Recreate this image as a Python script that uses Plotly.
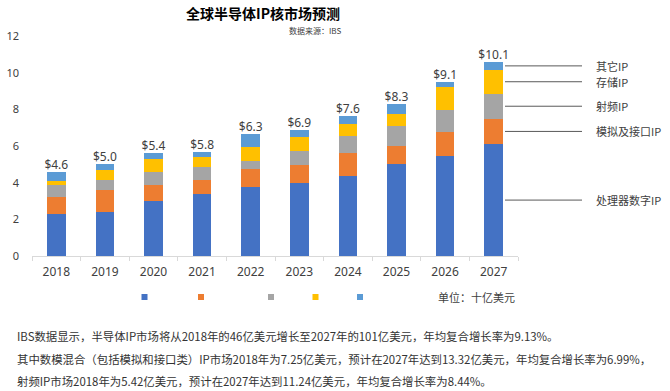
import plotly.graph_objects as go

# ---------------- data ----------------
years = ["2018", "2019", "2020", "2021", "2022", "2023", "2024", "2025", "2026", "2027"]
series_names = ["处理器数字IP", "模拟及接口IP", "射频IP", "存储IP", "其它IP"]
digital = [2.30, 2.39, 3.00, 3.40, 3.77, 3.99, 4.39, 5.01, 5.48, 6.10]
analog = [0.90, 1.21, 0.88, 0.77, 0.95, 1.00, 1.22, 0.99, 1.31, 1.39]
rf = [0.68, 0.55, 0.69, 0.69, 0.47, 0.76, 0.91, 1.07, 1.19, 1.36]
memory = [0.22, 0.55, 0.71, 0.54, 0.78, 0.73, 0.68, 0.69, 1.22, 1.31]
other = [0.50, 0.30, 0.32, 0.28, 0.70, 0.41, 0.41, 0.54, 0.27, 0.42]
total_labels = ["$4.6", "$5.0", "$5.4", "$5.8", "$6.3", "$6.9", "$7.6", "$8.3", "$9.1", "$10.1"]
y_ticks = [0, 2, 4, 6, 8, 10, 12]
notes = [
    "IBS数据显示，半导体IP市场将从2018年的46亿美元增长至2027年的101亿美元，年均复合增长率为9.13%。",
    "其中数模混合（包括模拟和接口类）IP市场2018年为7.25亿美元，预计在2027年达到13.32亿美元，年均复合增长率为6.99%，",
    "射频IP市场2018年为5.42亿美元，预计在2027年达到11.24亿美元，年均复合增长率为8.44%。",
]

colors = ["#4472C4", "#ED7D31", "#A5A5A5", "#FFC000", "#5B9BD5"]
series = [digital, analog, rf, memory, other]

W, H = 670, 391
ML, MR, MT, MB = 32, 152, 36, 135
PW = W - ML - MR
PH = H - MT - MB


def px_x(p):
    return (p - ML) / PW


def px_y(p):
    return (H - MB - p) / PH


CJK = "Noto Sans CJK SC"
NUM = "Noto Sans"

fig = go.Figure()
for name, vals, c in zip(series_names, series, colors):
    fig.add_trace(go.Bar(x=years, y=vals, name=name, marker=dict(color=c, line=dict(width=0)),
                         width=0.385, showlegend=False))

# total labels above the stacks
totals = [sum(v) for v in zip(*series)]
fig.add_trace(go.Scatter(x=years, y=totals, mode="text", text=total_labels, textposition="top center",
                         textfont=dict(size=12, family=NUM, color="#404040"), cliponaxis=False,
                         showlegend=False, hoverinfo="skip"))

# legend squares (no text), one legend each
legend_px = [144.5, 201, 271, 315.5, 360]
for i, (c, lx) in enumerate(zip(colors, legend_px)):
    key = "legend" if i == 0 else f"legend{i+1}"
    fig.add_trace(go.Scatter(x=[None], y=[None], mode="markers", name="",
                             marker=dict(symbol="square", size=6, color=c),
                             legend=key, showlegend=True, hoverinfo="skip"))
    fig.update_layout(**{key: dict(x=px_x(lx - 20), y=px_y(297), xanchor="left", yanchor="middle",
                                   bgcolor="rgba(0,0,0,0)", borderwidth=0, itemsizing="trace",
                                   font=dict(size=11, family=CJK))})

annotations = []
# right side labels with leader lines
shapes = []
base = 0
last = [s[-1] for s in series]
for name, v in zip(series_names, last):
    mid = base + v / 2
    base += v
    shapes.append(dict(type="line", xref="paper", yref="y", x0=px_x(505), x1=px_x(582), y0=mid, y1=mid,
                       line=dict(color="#595959", width=1)))
    annotations.append(dict(x=px_x(594), y=mid, xref="paper", yref="y", text=name, showarrow=False,
                            xanchor="left", yanchor="middle", font=dict(size=11, family=CJK, color="#404040")))

annotations.append(dict(x=px_x(314.5), y=px_y(30.5), xref="paper", yref="paper", text="数据来源：IBS",
                        showarrow=False, xanchor="center", yanchor="middle",
                        font=dict(size=8, family=CJK, color="#404040")))
annotations.append(dict(x=px_x(436), y=px_y(297), xref="paper", yref="paper", text="单位：十亿美元",
                        showarrow=False, xanchor="left", yanchor="middle",
                        font=dict(size=11, family=CJK, color="#404040")))
for i, line in enumerate(notes):
    annotations.append(dict(x=px_x(15), y=px_y(336 + 22.5 * i), xref="paper", yref="paper", text=line,
                            showarrow=False, xanchor="left", yanchor="middle",
                            font=dict(size=11.4, family=CJK, color="#333333")))

fig.update_layout(
    width=W, height=H,
    margin=dict(l=ML, r=MR, t=MT, b=MB, autoexpand=False),
    barmode="stack",
    plot_bgcolor="white", paper_bgcolor="white",
    title=dict(text="<b>全球半导体IP核市场预测</b>", x=263 / W, xref="container", xanchor="center",
               y=1 - 14 / H, yref="container", yanchor="middle",
               font=dict(size=14, family=CJK, color="#000000")),
    xaxis=dict(type="category", range=[-0.5, 9.5], showline=True, linecolor="#D9D9D9", linewidth=1,
               ticks="outside", tickson="boundaries", ticklen=4, tickcolor="#D9D9D9", automargin=False,
               ticklabelstandoff=5,
               tickfont=dict(size=12, family=NUM, color="#404040"), showgrid=False, fixedrange=True),
    yaxis=dict(range=[0, 12], tickvals=y_ticks, showgrid=False, zeroline=False, showline=False,
               automargin=False,
               tickfont=dict(size=11, family=NUM, color="#404040"), ticklabelstandoff=12),
    annotations=annotations,
    shapes=shapes,
)

fig.write_html("out.html", config={"displayModeBar": False},
               post_script="document.body.style.margin='0';document.body.style.overflow='hidden';")
